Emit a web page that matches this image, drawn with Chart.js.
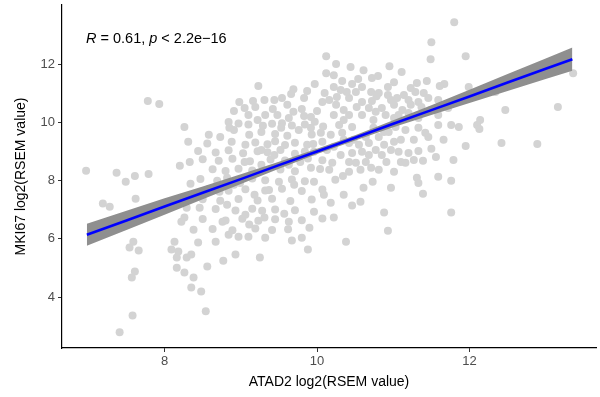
<!DOCTYPE html>
<html><head><meta charset="utf-8">
<script src="https://cdn.jsdelivr.net/npm/chart.js@4"></script>
<style>html,body{margin:0;padding:0;background:#fff}</style>
</head><body>
<canvas id="c" width="600" height="397"></canvas>
<script>
// ATAD2 expression (x) and MKI67 expression (y), log2(RSEM value)
const atad2 = [
 6.97,7.78,7.93,7.19,7.28,7.37,7.49,7.61,7.79,7.62,
 7.59,7.54,7.66,7.61,7.57,7.58,7.41,8.20,8.33,8.26,
 8.31,8.34,8.29,8.26,8.22,8.38,8.13,8.09,8.18,8.16,
 8.29,8.35,8.16,8.26,8.38,8.35,8.54,8.48,8.56,8.77,
 8.93,9.25,9.88,9.67,9.80,8.97,9.10,9.32,8.84,8.67,
 8.44,10.38,
 10.12,10.12,9.23,9.69,9.97,9.87,10.10,9.66,9.16,10.07,
 8.91,9.19,9.42,9.69,9.80,9.10,9.32,9.48,10.00,
 11.80,11.50,11.49,10.25,10.44,10.95,11.11,10.22,10.72,10.80,
 10.54,10.33,11.31,11.44,11.67,11.61,10.46,10.59,10.93,10.22,
 11.23,10.51,10.71,10.81,10.93,11.29,11.40,10.26,10.42,10.59,
 10.72,11.20,11.33,11.46,10.25,10.52,10.68,10.85,11.23,11.37,
 10.22,10.42,10.59,10.90,11.07,11.20,
 11.95,11.99,12.34,12.43,12.47,13.16,13.36,12.14,12.10,12.13,
 11.95,12.42,12.89,
 11.79,11.76,11.76,11.59,11.31,11.33,11.39,10.97,10.73,10.57,
 10.46,10.88,10.93,10.34,10.24,10.18,11.56,11.39,11.50,11.33,
 11.20,11.07,11.10,11.16,10.91,10.85,10.77,10.88,10.64,10.51,
 10.42,10.46,10.59,10.68,10.42,10.20,10.22,11.46,11.42,11.76,
 11.86,11.16,11.03,10.33,10.46,10.29,10.81,10.64,10.18,
 8.84,8.97,9.10,9.29,9.41,9.54,9.67,9.84,9.97,10.08,
 8.58,8.73,9.45,9.61,9.93,
 8.56,9.19,9.35,9.45,9.58,9.71,9.95,10.07,
 8.44,8.67,8.84,9.03,9.22,9.35,9.52,9.71,9.84,
 8.50,8.71,8.89,9.12,9.39,9.58,9.88,10.07,
 8.63,8.80,8.97,9.15,9.52,9.71,10.04,
 8.47,8.69,9.15,9.32,9.67,9.84,
 8.58,8.84,9.06,9.32,9.54,9.80,10.07,
 8.50,8.73,8.97,9.22,9.41,9.65,9.93,
 8.67,8.93,9.15,9.28,9.45,9.71,
 8.50,8.80,9.02,9.23,9.45,9.80,10.07,
 8.63,8.89,9.19,9.41,9.62,
 10.35,10.77,11.01,11.14,11.01,10.61,10.39,11.05,11.49,11.59,
 10.35,10.55,10.74,10.94,11.01,11.27,11.66,11.59,10.57,10.71,
 8.91,9.11,9.27,9.76,10.05,9.06,8.88,9.78,9.96,9.27,
 8.82,8.99,9.50,9.96,9.18,9.06,9.57,9.96,8.46,8.76,
 9.31,9.54,9.83,8.98,9.61,9.92,
 9.44,9.05,10.16,10.31,10.97,11.12,10.78,9.22,9.63,9.83,
 10.35,10.74,11.01,11.33,11.59,11.72,9.53,9.92,10.48,10.88,
 11.10,11.33,8.85,9.27,9.44,9.87,10.13,10.31,10.97,11.27,
 10.68,9.05,9.63,9.92,10.16,10.42,10.81,11.01,8.91,9.37,
 9.70,10.09,10.35,10.61,8.72,8.82,9.31,9.63,9.90,10.22,
 9.11
];
const mki67 = [
 8.34,10.73,10.63,7.21,7.10,8.27,7.96,8.16,8.23,7.38,
 5.90,5.70,5.60,4.88,4.67,3.37,2.79,8.51,8.64,9.84,
 9.33,7.89,7.07,6.73,6.59,6.31,5.90,5.63,5.56,5.36,
 5.36,5.46,5.01,4.84,4.67,4.33,3.51,4.19,5.05,5.25,
 5.46,5.36,5.63,5.94,6.04,6.07,6.07,6.04,6.14,5.90,
 5.87,5.90,
 12.27,11.69,11.25,11.14,11.32,11.08,11.01,10.97,10.73,10.70,
 10.39,10.53,10.46,10.36,10.46,10.25,10.25,10.25,10.39,
 13.44,12.75,12.17,12.00,11.90,11.93,11.73,11.62,11.52,11.59,
 11.49,11.42,11.35,11.42,11.32,11.25,11.32,11.21,11.21,11.21,
 11.18,11.04,11.04,11.01,10.94,11.04,11.01,10.87,10.84,10.70,
 10.73,10.77,10.70,10.84,10.60,10.53,10.49,10.49,10.60,10.53,
 10.25,10.25,10.25,10.25,10.25,10.32,
 12.27,11.21,11.04,11.32,10.42,10.53,11.69,10.08,9.91,9.77,
 9.19,9.29,9.26,
 8.71,7.99,6.90,8.13,8.10,7.92,7.55,7.75,7.96,7.27,
 7.14,6.90,6.28,8.16,8.03,7.24,8.81,8.68,9.09,9.02,
 8.95,8.99,8.64,8.61,8.64,8.88,9.05,9.23,8.64,8.61,
 8.64,8.95,8.99,9.29,9.29,8.61,9.16,9.50,9.64,9.91,
 9.84,9.74,9.84,9.64,9.84,9.91,9.50,9.50,9.57,
 10.01,9.96,9.93,9.88,9.95,9.97,9.89,9.93,10.02,9.86,
 9.57,9.50,9.60,9.54,9.58,
 9.27,9.31,9.25,9.35,9.22,9.30,9.26,9.33,
 9.02,8.96,9.04,8.94,9.01,8.97,9.05,8.92,9.00,
 8.73,8.68,8.75,8.66,8.72,8.69,8.76,8.70,
 8.39,8.33,8.41,8.35,8.38,8.32,8.40,
 8.05,7.99,8.07,8.01,8.04,7.98,
 7.71,7.65,7.70,7.66,7.72,7.64,7.69,
 7.36,7.31,7.37,7.32,7.38,7.30,7.35,
 7.02,6.97,7.03,6.96,7.01,6.98,
 6.68,6.63,6.69,6.62,6.67,6.64,6.70,
 6.34,6.29,6.35,6.30,6.33,
 10.42,10.36,10.60,10.94,11.38,11.79,11.04,10.84,10.42,10.77,
 9.40,9.23,9.81,9.67,9.33,9.40,9.40,9.91,8.37,8.44,
 9.74,9.57,9.67,9.74,9.64,9.23,9.33,8.64,8.99,8.54,
 8.10,7.92,7.96,7.96,7.51,6.83,6.86,6.93,7.07,6.59,
 10.77,10.84,10.84,10.70,10.60,10.18,
 10.77,10.49,10.77,11.11,10.77,10.42,10.90,10.08,10.15,10.22,
 10.08,10.08,10.15,10.15,10.25,10.49,9.81,9.81,9.40,9.67,
 9.40,9.81,9.81,9.05,8.88,9.23,9.05,8.88,9.05,8.71,
 8.88,8.64,8.54,8.44,8.37,8.30,8.37,8.30,7.86,7.68,
 7.86,7.51,7.51,7.75,7.62,7.17,6.73,6.59,6.38,6.73,
 6.49
];
// fitted regression line and its confidence band
const fitX   = [6.98,7.5,8,8.5,9,9.5,10,10.5,11,11.5,12,12.5,13,13.35];
const fitY   = [6.14,6.63,7.11,7.58,8.05,8.53,9.00,9.47,9.95,10.42,10.89,11.37,11.84,12.17];
const bandLo = [5.76,6.30,6.83,7.36,7.88,8.41,8.91,9.38,9.83,10.25,10.66,11.08,11.49,11.77];
const bandHi = [6.52,6.96,7.39,7.80,8.22,8.65,9.09,9.56,10.07,10.59,11.12,11.66,12.19,12.57];
const xTicks = [8,10,12];
const yTicks = [4,6,8,10,12];
const statR = "0.61";
const statP = "2.2e\u221216";

const pts = atad2.map((v,i)=>({x:v,y:mki67[i]}));
const lineData = fitX.map((v,i)=>({x:v,y:fitY[i]}));
const loData = fitX.map((v,i)=>({x:v,y:bandLo[i]}));
const hiData = fitX.map((v,i)=>({x:v,y:bandHi[i]}));

const FONT = '"Liberation Sans", Arial, Helvetica, sans-serif';

const annot = {
  id:'annot',
  afterDraw(chart){
    const ctx = chart.ctx;
    ctx.save();
    ctx.fillStyle = '#000';
    ctx.textBaseline = 'alphabetic';
    let x = 86, y = 43;
    const parts = [['italic ','R'],['',' = '+statR+', '],['italic ','p'],['',' < '+statP]];
    for (const [st,t] of parts){
      ctx.font = st + '14.5px ' + FONT;
      ctx.fillText(t, x, y);
      x += ctx.measureText(t).width;
    }
    ctx.restore();
  }
};

new Chart(document.getElementById('c'), {
  type:'scatter',
  data:{datasets:[
    {data:pts, backgroundColor:'#d3d3d3', borderWidth:0, pointRadius:4, pointHoverRadius:4, order:4},
    {data:loData, showLine:true, borderWidth:0, borderColor:'rgba(0,0,0,0)', pointRadius:0, fill:false, order:3},
    {data:hiData, showLine:true, borderWidth:0, borderColor:'rgba(0,0,0,0)', pointRadius:0, fill:'-1', backgroundColor:'#8f8f8f', order:2},
    {data:lineData, showLine:true, borderColor:'#0000ff', borderWidth:2.6, pointRadius:0, fill:false, order:1}
  ]},
  options:{
    responsive:false, animation:false, devicePixelRatio:1,
    layout:{padding:{top:5,right:2,left:0,bottom:6}},
    plugins:{legend:{display:false}, tooltip:{enabled:false}},
    scales:{
      x:{type:'linear', min:6.654, max:13.66,
        afterBuildTicks:s=>{s.ticks = xTicks.map(v=>({value:v}));},
        afterFit:s=>{s.height = 43; s.paddingLeft = 0; s.paddingRight = 0;},
        grid:{drawOnChartArea:false, drawTicks:true, tickLength:4, color:'#333', lineWidth:1},
        border:{color:'#000', width:1.2},
        ticks:{color:'#4d4d4d', font:{size:13, family:FONT}, padding:2, maxRotation:0},
        title:{display:true, text:'ATAD2 log2(RSEM value)', color:'#000', font:{size:14, family:FONT}, padding:{top:0,bottom:0}}
      },
      y:{type:'linear', min:2.25, max:14.03,
        afterBuildTicks:s=>{s.ticks = yTicks.map(v=>({value:v}));},
        afterFit:s=>{s.width = 62; s.paddingTop = 0; s.paddingBottom = 0;},
        grid:{drawOnChartArea:false, drawTicks:true, tickLength:4, color:'#333', lineWidth:1},
        border:{color:'#000', width:1.2},
        ticks:{color:'#4d4d4d', font:{size:13, family:FONT}, padding:3},
        title:{display:true, text:'MKI67 log2(RSEM value)', color:'#000', font:{size:14, family:FONT}, padding:{top:13,bottom:0}}
      }
    }
  },
  plugins:[annot]
});
</script>
</body></html>
